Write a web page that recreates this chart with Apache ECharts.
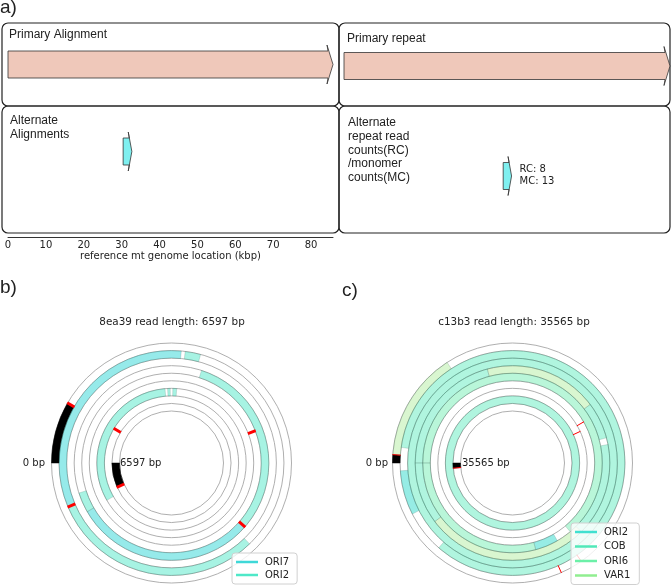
<!DOCTYPE html>
<html><head><meta charset="utf-8">
<script src="https://cdn.jsdelivr.net/npm/echarts@6/dist/echarts.min.js"></script>
<style>html,body{margin:0;padding:0;background:#fff}#c{width:672px;height:588px}</style>
</head><body><div id="c"></div>
<script>
// ---------- DATA ----------
const axisTicksKbp = [0, 10, 20, 30, 40, 50, 60, 70, 80];
const genomeMaxKbp = 85.8;
const primaryAlignment = [[0, 85.8]];          // kbp
const alternateAlignments = [[30.4, 32.7]];    // kbp
const primaryRepeat = [[0, 85.8]];
const alternateRepeats = [[41.9, 44.1]];
const repeatRC = [8];
const repeatMC = [13];

const readB = { id: '8ea39', length: 6597 };
const readC = { id: 'c13b3', length: 35565 };
const ringCount = 9;
// arcs: [ring (0 = outermost), start deg, end deg, feature]
const arcsB = [
  [0, 0, 30, 'unaligned'],
  [1, 226, 337, 'ORI2'],
  [1, 337, 95, 'ORI7'],
  [1, 97, 105, 'ORI2'],
  [3, 108, 221, 'ORI2'],
  [3, 221, 330, 'ORI7'],
  [3, 330, 342, 'ORI2'],
  [6, 330, 85, 'ORI2'],
  [6, 87, 89, 'ORI2'],
  [6, 91, 94, 'ORI2'],
  [8, 336, 360, 'unaligned']
];
const breaksB = [[0, 30], [1, 337], [3, 221], [4, 159], [7, 31], [8, 336]];
const arcsC = [
  [0, 0, 4, 'unaligned'],
  [0, 4, 57, 'VAR1'],
  [1, 333, 356, 'ORI2'],
  [1, 8, 311, 'COB'],
  [2, 0, 360, 'COB'],
  [3, 0, 75, 'COB'],
  [3, 75, 143, 'VAR1'],
  [3, 143, 165, 'COB'],
  [3, 169, 225, 'COB'],
  [3, 225, 323, 'VAR1'],
  [3, 323, 360, 'COB'],
  [4, 0, 230, 'ORI6'],
  [4, 240, 255, 'ORI2'],
  [4, 255, 360, 'ORI6'],
  [7, 0, 360, 'COB'],
  [8, 355, 360, 'unaligned']
];
const breaksC = [[0, 4], [0, 235], [0, 246], [5, 150], [6, 155], [8, 355]];

const legendB = ['ORI7', 'ORI2'];
const legendC = ['ORI2 ', 'COB', 'ORI6', 'VAR1'];

// ---------- STYLE ----------
const lineColor = { 'ORI7': '#3fd8d8', 'ORI2': '#4fe8c8', 'ORI2 ': '#40e0d0', 'COB': '#50e8b8', 'ORI6': '#6cf0a8', 'VAR1': '#90ee90' };
const fillB = { 'ORI7': 'rgba(64,216,216,0.55)', 'ORI2': 'rgba(80,232,200,0.5)', 'unaligned': '#000' };
const fillC = { 'ORI2': 'rgba(64,220,208,0.55)', 'COB': 'rgba(80,232,184,0.45)', 'ORI6': 'rgba(100,236,170,0.45)', 'VAR1': 'rgba(170,236,150,0.45)', 'unaligned': '#000' };
const FONT = 'DejaVu Sans';

const chart = echarts.init(document.getElementById('c'), null, { renderer: 'canvas' });

function arrowRender(fill, withLabels) {
  return function (params, api) {
    const s = api.coord([api.value(0), api.value(2)]);
    const e = api.coord([api.value(1), api.value(2)]);
    const bh = 13.5, hh = 19.5;
    const len = e[0] - s[0];
    const hl = Math.min(5, len * 0.3);
    const y = s[1], xh = e[0] - hl;
    const pts = [[s[0], y - bh], [xh, y - bh], [xh - 1, y - hh], [e[0], y], [xh - 1, y + hh], [xh, y + bh], [s[0], y + bh]];
    const children = [{ type: 'polygon', shape: { points: pts }, style: { fill: fill, stroke: '#333', lineWidth: 0.8 } }];
    if (withLabels) {
      children.push({ type: 'text', style: { x: e[0] + 8, y: y - 7, text: 'RC: ' + repeatRC[params.dataIndex], font: '10px ' + FONT, fill: '#222', verticalAlign: 'middle' } });
      children.push({ type: 'text', style: { x: e[0] + 8, y: y + 5, text: 'MC: ' + repeatMC[params.dataIndex], font: '10px ' + FONT, fill: '#222', verticalAlign: 'middle' } });
    }
    return { type: 'group', children: children };
  };
}

function arcRender(arcs, fills) {
  return function (params, api) {
    const a = arcs[params.dataIndex];
    const cs = params.coordSys;
    const p0 = api.coord([a[0], a[1]]);
    const p1 = api.coord([a[0], a[2]]);
    const q0 = api.coord([a[0] + 1, a[1]]);
    let sa = Math.atan2(p0[1] - cs.cy, p0[0] - cs.cx);
    let ea = Math.atan2(p1[1] - cs.cy, p1[0] - cs.cx);
    if (a[2] - a[1] >= 360) { ea = sa + Math.PI * 2; }
    while (ea <= sa) ea += Math.PI * 2;
    const rOut = Math.hypot(p0[0] - cs.cx, p0[1] - cs.cy);
    const rIn = Math.hypot(q0[0] - cs.cx, q0[1] - cs.cy);
    const black = a[3] === 'unaligned';
    return {
      type: 'sector',
      shape: { cx: cs.cx, cy: cs.cy, r0: rIn, r: rOut, startAngle: sa, endAngle: ea, clockwise: true },
      style: { fill: fills[a[3]], stroke: black ? '#000' : 'rgba(60,90,80,0.35)', lineWidth: 0.5 }
    };
  };
}

function breakRender(list, width) {
  return function (params, api) {
    const b = list[params.dataIndex];
    const p0 = api.coord([b[0] - 0.05, b[1]]);
    const p1 = api.coord([b[0] + 1.05, b[1]]);
    return { type: 'line', shape: { x1: p0[0], y1: p0[1], x2: p1[0], y2: p1[1] }, style: { stroke: '#f00', lineWidth: width } };
  };
}

function polarAxes(idx, center) {
  return {
    polar: { center: center, radius: [52, 120] },
    angleAxis: { polarIndex: idx, type: 'value', min: 0, max: 360, startAngle: 180, clockwise: true, show: false },
    radiusAxis: {
      polarIndex: idx, type: 'value', min: 0, max: ringCount, interval: 1, inverse: true,
      axisLine: { show: false }, axisTick: { show: false }, axisLabel: { show: false },
      splitLine: { show: true, lineStyle: { color: '#9a9a9a', width: 0.8 } }
    }
  };
}
const pB = polarAxes(0, [171.5, 463]);
const pC = polarAxes(1, [512.5, 463]);

const series = [];
// panel a
series.push({ type: 'custom', xAxisIndex: 0, yAxisIndex: 0, renderItem: arrowRender('#efc8ba', false),
  data: primaryAlignment.map(d => [d[0], d[1], 1]) });
series.push({ type: 'custom', xAxisIndex: 0, yAxisIndex: 0, renderItem: arrowRender('#7ff0f0', false),
  data: alternateAlignments.map(d => [d[0], d[1], 0]) });
series.push({ type: 'custom', xAxisIndex: 1, yAxisIndex: 1, renderItem: arrowRender('#efc8ba', false),
  data: primaryRepeat.map(d => [d[0], d[1], 1]) });
series.push({ type: 'custom', xAxisIndex: 1, yAxisIndex: 1, renderItem: arrowRender('#7ff0f0', true),
  data: alternateRepeats.map(d => [d[0], d[1], 0]) });

// panel b / c arcs
series.push({ type: 'custom', name: 'arcsB', coordinateSystem: 'polar', polarIndex: 0, renderItem: arcRender(arcsB, fillB),
  data: arcsB.map(a => [a[0], a[1]]), z: 3 });
series.push({ type: 'custom', name: 'breaksB', coordinateSystem: 'polar', polarIndex: 0, renderItem: breakRender(breaksB, 3),
  data: breaksB.map(a => [a[0], a[1]]), z: 4 });
series.push({ type: 'custom', name: 'arcsC', coordinateSystem: 'polar', polarIndex: 1, renderItem: arcRender(arcsC, fillC),
  data: arcsC.map(a => [a[0], a[1]]), z: 3 });
series.push({ type: 'custom', name: 'breaksC', coordinateSystem: 'polar', polarIndex: 1, renderItem: breakRender(breaksC, 1),
  data: breaksC.map(a => [a[0], a[1]]), z: 4 });
// legend-only series
legendB.concat(legendC).forEach(n => {
  series.push({ type: 'custom', name: n, coordinateSystem: 'polar', polarIndex: 0, itemStyle: { color: lineColor[n] },
    renderItem: () => ({ type: 'group', children: [] }), data: [] });
});

function legendCfg(names, left, top, gap) {
  return {
    data: names.map(n => ({ name: n, icon: 'rect', itemStyle: { color: lineColor[n] } })),
    orient: 'vertical', left: left, top: top, z: 20,
    itemWidth: 22, itemHeight: 2.5, itemGap: gap,
    padding: [4, 8, 4, 4], backgroundColor: 'rgba(255,255,255,0.8)',
    borderColor: '#d0d0d0', borderWidth: 1, borderRadius: 3,
    textStyle: { fontFamily: FONT, fontSize: 10, color: '#222', padding: [0, 0, 0, 2] },
    selectedMode: false
  };
}

const boxStyle = { fill: 'none', stroke: '#222', lineWidth: 1.2 };
const txt = (x, y, t, size, fam, lh) => ({ type: 'text', left: x, top: y, style: { text: t, font: size + 'px ' + (fam || 'Liberation Sans'), fill: '#222', lineHeight: lh || 13.75 } });
const ctext = (x, y, t) => ({ type: 'text', style: { x: x, y: y, text: t, font: '10.4px ' + FONT, fill: '#222', textAlign: 'center', textVerticalAlign: 'middle', verticalAlign: 'middle' } });

const option = {
  animation: false,
  backgroundColor: '#fff',
  grid: [
    { left: 8, width: 325, top: 21, height: 174 },
    { left: 344, width: 326, top: 11, height: 220 }
  ],
  xAxis: [
    { gridIndex: 0, type: 'value', min: 0, max: genomeMaxKbp, interval: 10, offset: 42,
      name: 'reference mt genome location (kbp)', nameLocation: 'middle', nameGap: 14,
      nameTextStyle: { fontFamily: FONT, fontSize: 10, color: '#222' },
      axisLine: { show: true, lineStyle: { color: '#333', width: 1 } },
      axisTick: { show: false },
      axisLabel: { fontFamily: FONT, fontSize: 10, color: '#222', margin: 3,
        formatter: v => axisTicksKbp.indexOf(v) >= 0 ? String(v) : '' },
      splitLine: { show: false } },
    { gridIndex: 1, type: 'value', min: 0, max: genomeMaxKbp, show: false, splitLine: { show: false } }
  ],
  yAxis: [
    { gridIndex: 0, type: 'category', data: ['Alternate', 'Primary'], show: false },
    { gridIndex: 1, type: 'category', data: ['Alternate', 'Primary'], show: false }
  ],
  polar: [pB.polar, pC.polar],
  angleAxis: [pB.angleAxis, pC.angleAxis],
  radiusAxis: [pB.radiusAxis, pC.radiusAxis],
  legend: [legendCfg(legendB, 232, 553, 3), legendCfg(legendC, 571, 523, 4.5)],
  graphic: [
    { type: 'rect', shape: { x: 2, y: 23, width: 337, height: 83, r: 6 }, style: boxStyle },
    { type: 'rect', shape: { x: 2, y: 106, width: 337, height: 127, r: 6 }, style: boxStyle },
    { type: 'rect', shape: { x: 339, y: 23, width: 331, height: 83, r: 6 }, style: boxStyle },
    { type: 'rect', shape: { x: 339, y: 106, width: 331, height: 127, r: 6 }, style: boxStyle },
    txt(0, -2, 'a)', 19),
    txt(0, 278, 'b)', 19),
    txt(342, 281, 'c)', 19),
    txt(9, 28, 'Primary Alignment', 12),
    txt(10, 114, 'Alternate\nAlignments', 12),
    txt(347, 32, 'Primary repeat', 12),
    txt(348, 116, 'Alternate\nrepeat read\ncounts(RC)\n/monomer\ncounts(MC)', 12),
    ctext(172, 322, readB.id + ' read length: ' + readB.length + ' bp'),
    ctext(514, 322, readC.id + ' read length: ' + readC.length + ' bp'),
    { type: 'text', style: { x: 45, y: 463, text: '0 bp', font: '10px ' + FONT, fill: '#222', textAlign: 'right', verticalAlign: 'middle' } },
    { type: 'text', style: { x: 120, y: 463, text: readB.length + ' bp', font: '10px ' + FONT, fill: '#222', textAlign: 'left', verticalAlign: 'middle' } },
    { type: 'text', style: { x: 388, y: 463, text: '0 bp', font: '10px ' + FONT, fill: '#222', textAlign: 'right', verticalAlign: 'middle' } },
    { type: 'text', style: { x: 462, y: 463, text: readC.length + ' bp', font: '10px ' + FONT, fill: '#222', textAlign: 'left', verticalAlign: 'middle' } }
  ],
  series: series
};
chart.setOption(option);
</script></body></html>
